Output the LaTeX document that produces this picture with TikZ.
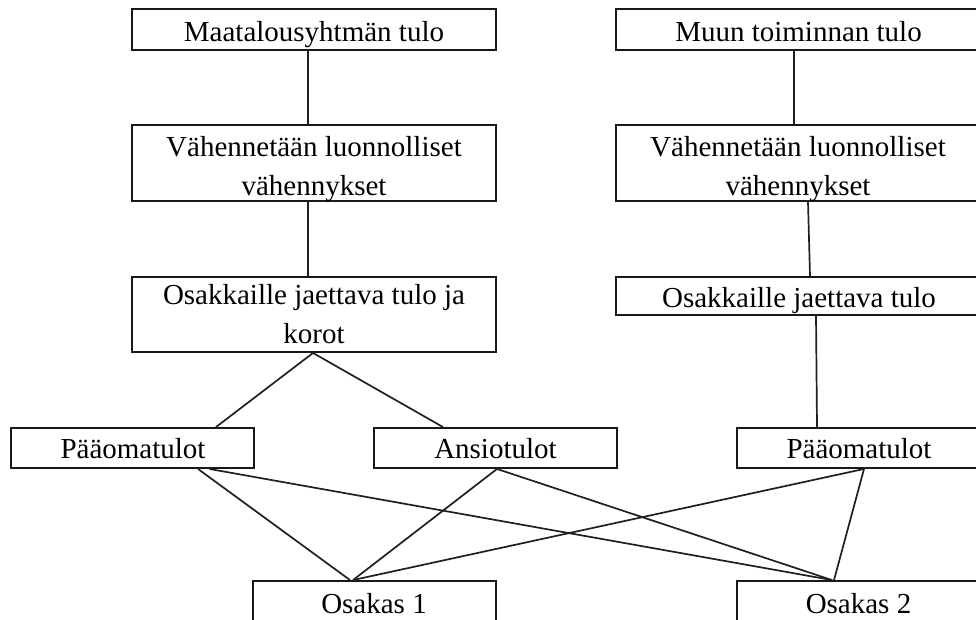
\documentclass[tikz,border=0pt]{standalone}
\usepackage{fontspec}
\setmainfont{Liberation Serif}
\begin{document}
\begin{tikzpicture}[x=1pt,y=-1pt,
  box/.style={draw=black!90, line width=1.9pt, rectangle, inner sep=0pt},
  topbox/.style={box, minimum width=364pt},
  lowbox/.style={box, minimum width=243pt, minimum height=40pt},
  txt/.style={anchor=base, inner sep=0pt, font=\fontsize{29}{34}\selectfont},
  conn/.style={draw=black!88, line width=1.7pt}]
\useasboundingbox (0,0) rectangle (976,619);
\clip (0,0) rectangle (976,619);
% boxes
\node[topbox, minimum height=41pt] (A) at (314,29.5) {};
\node[topbox, minimum height=76pt] (B) at (314,163) {};
\node[topbox, minimum height=75pt] (C) at (314,314.5) {};
\node[topbox, minimum width=365pt, minimum height=41pt] (D) at (798.5,29.5) {};
\node[topbox, minimum width=365pt, minimum height=76pt] (E) at (798.5,163) {};
\node[topbox, minimum width=365pt, minimum height=38pt] (F) at (798.5,296) {};
\node[lowbox] (P1) at (132.5,448) {};
\node[lowbox] (An) at (495.5,448) {};
\node[lowbox, minimum width=244pt] (G) at (859,448) {};
\node[lowbox, minimum height=58pt] (O1) at (374.5,610) {};
\node[lowbox, minimum width=244pt, minimum height=58pt] (O2) at (859,610) {};
% texts
\node[txt] (tA) at (314,41.5) {Maatalousyhtmän tulo};
\node[txt] (tB1) at (314,156) {Vähennetään luonnolliset};
\node[txt] (tB2) at (314,195) {vähennykset};
\node[txt] (tC1) at (314,304) {Osakkaille jaettava tulo ja};
\node[txt] (tC2) at (314,343) {korot};
\node[txt] (tD) at (798.5,41.5) {Muun toiminnan tulo};
\node[txt] (tE1) at (798,156) {Vähennetään luonnolliset};
\node[txt] (tE2) at (798,195) {vähennykset};
\node[txt] (tF) at (799,307) {Osakkaille jaettava tulo};
\node[txt] (tP1) at (133,458) {Pääomatulot};
\node[txt] (tAn) at (495.5,458) {Ansiotulot};
\node[txt] (tG) at (859,458) {Pääomatulot};
\node[txt] (tO1) at (374,613) {Osakas 1};
\node[txt] (tO2) at (858.5,613) {Osakas 2};
% connectors
\draw[conn] ([xshift=-6pt]A.south) -- ([xshift=-6pt]B.north);
\draw[conn] ([xshift=-6pt]B.south) -- ([xshift=-6pt]C.north);
\draw[conn] ([xshift=-4.5pt]D.south) -- ([xshift=-4.5pt]E.north);
\draw[conn] ([xshift=9.5pt]E.south) -- ([xshift=11.5pt]F.north);
\draw[conn] ([xshift=17.5pt]F.south) -- ([xshift=-42pt]G.north);
\draw[conn] ([xshift=-1pt]C.south) -- ([xshift=83.5pt]P1.north);
\draw[conn] ([xshift=-1pt]C.south) -- ([xshift=-52.5pt]An.north);
\draw[conn] ([xshift=65.5pt]P1.south) -- ([xshift=-24.5pt]O1.north);
\draw[conn] ([xshift=77pt]P1.south) -- ([xshift=-27pt]O2.north);
\draw[conn] ([xshift=1.5pt]An.south) -- ([xshift=-21.5pt]O1.north);
\draw[conn] ([xshift=1.5pt]An.south) -- ([xshift=-27pt]O2.north);
\draw[conn] ([xshift=5pt]G.south) -- ([xshift=-21.5pt]O1.north);
\draw[conn] ([xshift=5pt]G.south) -- ([xshift=-25pt]O2.north);
\end{tikzpicture}
\end{document}
